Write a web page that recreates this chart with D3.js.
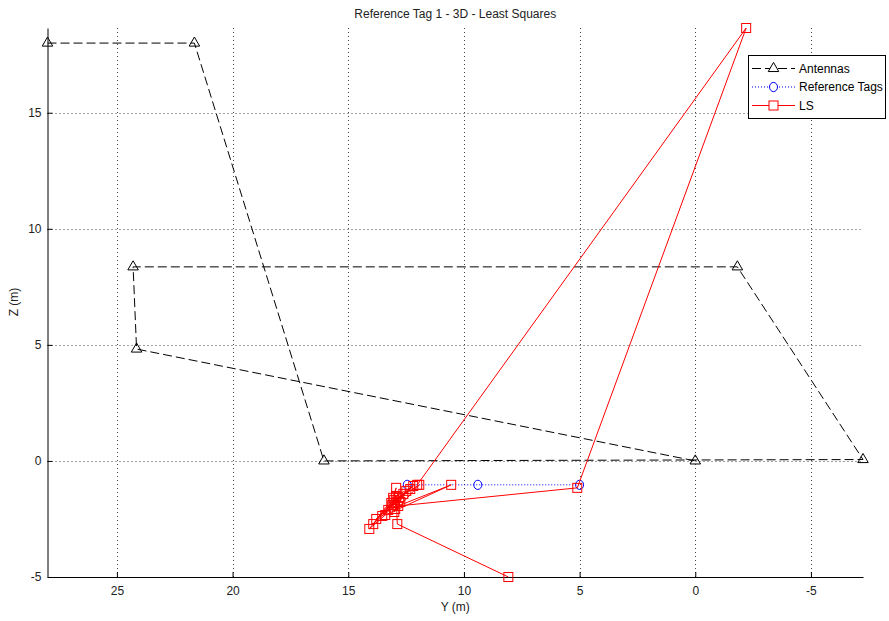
<!DOCTYPE html>
<html>
<head>
<meta charset="utf-8">
<script src="https://cdn.jsdelivr.net/npm/d3@7"></script>
<style>
  body { margin: 0; background: #fff; }
  text { font-family: "Liberation Sans", Arial, Helvetica, sans-serif; }
</style>
</head>
<body>
<svg id="chart" width="889" height="621"></svg>
<script>
// Antenna positions (Y, Z in metres), in path order
const antennaY = [28, 21.65, 16.05, -7.25, -1.82, 24.3, 24.15, 0];
const antennaZ = [18, 18, 0, 0.06, 8.36, 8.36, 4.82, 0];

// Reference tag positions
const tagY = [12.45, 9.4, 5.0];
const tagZ = [-1.03, -1.03, -1.03];

// Least-squares estimates, in the order they were computed
const lsY = [12.02, -2.2, 5.1, 12.84, 10.55, 13.4, 14.09, 13.06, 12.19, 13.79, 13.14, 12.32, 13.92,
             13.01, 12.62, 13.27, 12.93, 13.1, 12.49, 12.97, 12.8, 11.93, 13.01, 12.75, 13.53, 12.93,
             12.88, 8.08];
const lsZ = [-1.03, 18.65, -1.16, -1.94, -1.03, -2.33, -2.93, -1.59, -1.08, -2.5, -1.81, -1.21, -2.72,
             -1.68, -1.42, -2.11, -1.16, -1.9, -1.29, -2.07, -1.59, -1.03, -2.2, -1.77, -2.37, -1.51,
             -2.72, -5.0];

const xTicks = [25, 20, 15, 10, 5, 0, -5];
const yTicks = [-5, 0, 5, 10, 15];

const titleText = "Reference Tag 1 - 3D - Least Squares";
const xLabel = "Y (m)";
const yLabel = "Z (m)";
const legendLabels = ["Antennas", "Reference Tags", "LS"];

const plot = { left: 47.5, right: 863, top: 28, bottom: 577 };

const svg = d3.select("#chart");

const x = d3.scaleLinear().domain([28, -7.25]).range([plot.left, plot.right]);
const y = d3.scaleLinear().domain([-5, 18.65]).range([plot.bottom, plot.top]);

// Dotted grid
const grid = svg.append("g").attr("stroke", "#444").attr("stroke-width", 1)
  .attr("stroke-dasharray", "1,3");
grid.selectAll("line.vx").data(xTicks).join("line")
  .attr("x1", d => Math.round(x(d)) + 0.5).attr("x2", d => Math.round(x(d)) + 0.5)
  .attr("y1", plot.top).attr("y2", plot.bottom);
grid.selectAll("line.hy").data(yTicks.filter(d => d !== -5)).join("line")
  .attr("y1", d => Math.round(y(d)) + 0.5).attr("y2", d => Math.round(y(d)) + 0.5)
  .attr("x1", plot.left).attr("x2", plot.right);

// Axes with inward ticks
const xAxis = svg.append("g")
  .attr("transform", `translate(0,${plot.bottom})`)
  .call(d3.axisBottom(x).tickValues(xTicks).tickFormat(d3.format("d"))
    .tickSizeInner(-5).tickSizeOuter(0).tickPadding(9));
const yAxis = svg.append("g")
  .attr("transform", `translate(${plot.left},0)`)
  .call(d3.axisLeft(y).tickValues(yTicks).tickFormat(d3.format("d"))
    .tickSizeInner(-5).tickSizeOuter(0).tickPadding(6));
[xAxis, yAxis].forEach(a => {
  a.selectAll("text").attr("font-size", 12).attr("fill", "#222")
    .attr("font-family", "'Liberation Sans', Arial, sans-serif");
  a.select(".domain").attr("stroke", "#000");
  a.selectAll(".tick line").attr("stroke", "#000");
});
xAxis.selectAll(".tick text").text(d => d < 0 ? "-" + Math.abs(d) : d);
yAxis.selectAll(".tick text").text(d => d < 0 ? "-" + Math.abs(d) : d);

const line = d3.line().x(d => x(d[0])).y(d => y(d[1]));

const antennas = antennaY.map((v, i) => [v, antennaZ[i]]);
const tags = tagY.map((v, i) => [v, tagZ[i]]);
const ls = lsY.map((v, i) => [v, lsZ[i]]);

// Antennas: black dashed with open triangles
svg.append("path").datum(antennas).attr("d", line)
  .attr("fill", "none").attr("stroke", "#000").attr("stroke-width", 1)
  .attr("stroke-dasharray", "9,4");
const tri = d3.symbol().type(d3.symbolTriangle).size(48);
svg.append("g").selectAll("path").data(antennas).join("path")
  .attr("d", tri).attr("transform", d => `translate(${x(d[0])},${y(d[1])})`)
  .attr("fill", "none").attr("stroke", "#000").attr("stroke-width", 1);

// Reference tags: blue dotted with open circles
svg.append("path").datum(tags).attr("d", line)
  .attr("fill", "none").attr("stroke", "#0000ff").attr("stroke-width", 1)
  .attr("stroke-dasharray", "1,2");
svg.append("g").selectAll("ellipse").data(tags).join("ellipse")
  .attr("cx", d => x(d[0])).attr("cy", d => y(d[1])).attr("rx", 4).attr("ry", 4.6)
  .attr("fill", "none").attr("stroke", "#0000ff").attr("stroke-width", 1);

// LS estimates: red solid with open squares
svg.append("path").datum(ls).attr("d", line)
  .attr("fill", "none").attr("stroke", "#ff0000").attr("stroke-width", 1);
svg.append("g").selectAll("rect").data(ls).join("rect")
  .attr("x", d => x(d[0]) - 4.5).attr("y", d => y(d[1]) - 4.5)
  .attr("width", 9).attr("height", 9)
  .attr("fill", "none").attr("stroke", "#ff0000").attr("stroke-width", 1);

// Title and axis labels
svg.append("text").attr("x", (plot.left + plot.right) / 2).attr("y", 18)
  .attr("text-anchor", "middle").attr("font-size", 12).attr("fill", "#222").text(titleText);
svg.append("text").attr("x", (plot.left + plot.right) / 2).attr("y", 611)
  .attr("text-anchor", "middle").attr("font-size", 12).attr("fill", "#222").text(xLabel);
svg.append("text").attr("transform", `translate(18,302) rotate(-90)`)
  .attr("text-anchor", "middle").attr("font-size", 12).attr("fill", "#222").text(yLabel);

// Legend
const legend = svg.append("g").attr("transform", "translate(748,55)");
legend.append("rect").attr("x", 0.5).attr("y", 0.5).attr("width", 137).attr("height", 63)
  .attr("fill", "#fff").attr("stroke", "#000").attr("stroke-width", 1);
const legendStyles = [
  { stroke: "#000", dash: "9,4", marker: "tri" },
  { stroke: "#0000ff", dash: "1,2", marker: "circle" },
  { stroke: "#ff0000", dash: null, marker: "square" }
];
legendLabels.forEach((label, i) => {
  const cy = 13.5 + i * 18.5;
  const st = legendStyles[i];
  legend.append("line").attr("x1", 4).attr("x2", 47).attr("y1", cy).attr("y2", cy)
    .attr("stroke", st.stroke).attr("stroke-width", 1)
    .attr("stroke-dasharray", st.dash);
  if (st.marker === "tri") {
    legend.append("path").attr("d", tri).attr("transform", `translate(25.5,${cy})`)
      .attr("fill", "#fff").attr("stroke", st.stroke);
  } else if (st.marker === "circle") {
    legend.append("ellipse").attr("cx", 25.5).attr("cy", cy).attr("rx", 4).attr("ry", 4.6)
      .attr("fill", "#fff").attr("stroke", st.stroke);
  } else {
    legend.append("rect").attr("x", 21).attr("y", cy - 4.5).attr("width", 9).attr("height", 9)
      .attr("fill", "#fff").attr("stroke", st.stroke);
  }
  legend.append("text").attr("x", 51).attr("y", cy).attr("dy", "0.35em")
    .attr("font-size", 12).attr("fill", "#000").text(label);
});
</script>
</body>
</html>
